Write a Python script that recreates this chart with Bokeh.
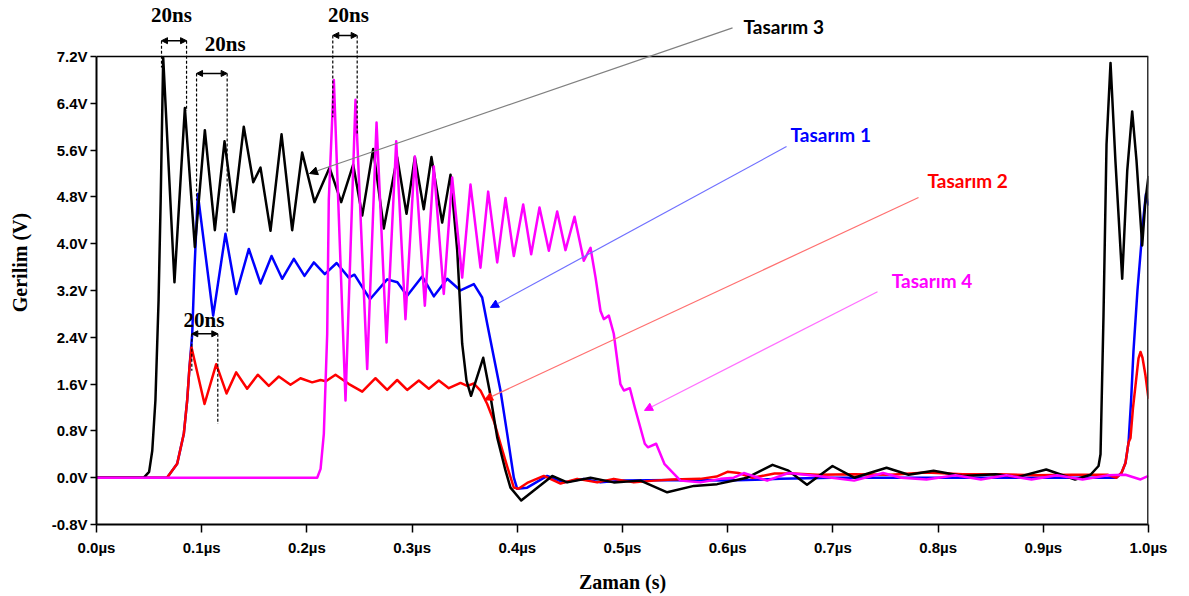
from bokeh.plotting import figure
from bokeh.models import Arrow, NormalHead, Label, FixedTicker, CustomJSTickFormatter
from bokeh.embed import file_html
from bokeh.resources import INLINE

# ---------------- data (time in microseconds, voltage in volts) ----------------
x_ticks = [0.0, 0.1, 0.2, 0.3, 0.4, 0.5, 0.6, 0.7, 0.8, 0.9, 1.0]
x_tick_labels = ["0.0µs", "0.1µs", "0.2µs", "0.3µs", "0.4µs", "0.5µs",
                 "0.6µs", "0.7µs", "0.8µs", "0.9µs", "1.0µs"]
y_ticks = [-0.8, 0.0, 0.8, 1.6, 2.4, 3.2, 4.0, 4.8, 5.6, 6.4, 7.2]
y_tick_labels = ["-0.8V", "0.0V", "0.8V", "1.6V", "2.4V", "3.2V",
                 "4.0V", "4.8V", "5.6V", "6.4V", "7.2V"]

series_names = ["Tasarım 1", "Tasarım 2", "Tasarım 3", "Tasarım 4"]

t3_t = [0.000, 0.045, 0.050, 0.053, 0.056, 0.059, 0.061, 0.0634, 0.0741, 0.0840,
        0.0935, 0.1030, 0.1125, 0.1217, 0.1305, 0.1400, 0.1490, 0.1559, 0.1654, 0.1759,
        0.1860, 0.1955, 0.2072, 0.2215, 0.2326, 0.2440, 0.2526, 0.2630, 0.2731, 0.2858,
        0.2947, 0.3026, 0.3111, 0.3184, 0.3286, 0.3365, 0.3429, 0.3476, 0.3517, 0.3560,
        0.3676, 0.3736, 0.3809, 0.3888, 0.3935, 0.4037, 0.4157, 0.4332, 0.4474, 0.4696,
        0.4917, 0.5171, 0.5425, 0.5678, 0.5900, 0.6185, 0.6426, 0.6578, 0.6754, 0.6996,
        0.7202, 0.7510, 0.7719, 0.7957, 0.8232, 0.8546, 0.8752, 0.9028, 0.9302, 0.9449,
        0.9525, 0.9544, 0.9572, 0.9601, 0.9639, 0.9686, 0.9750, 0.9798, 0.9845, 0.9886,
        0.9940, 0.9971, 1.0000]
t3_v = [0.00, 0.00, 0.10, 0.46, 1.32, 3.03, 4.74, 7.18, 3.34, 6.32,
        3.94, 5.94, 4.23, 5.75, 4.54, 6.00, 5.05, 5.30, 4.22, 5.87,
        4.23, 5.56, 4.71, 5.30, 4.71, 5.35, 4.48, 5.62, 4.26, 5.48,
        4.51, 5.48, 4.59, 5.48, 4.36, 5.18, 3.88, 2.29, 1.66, 1.40,
        2.05, 1.49, 0.69, 0.12, -0.17, -0.39, -0.22, 0.03, -0.08, 0.00,
        -0.08, -0.05, -0.25, -0.14, -0.11, 0.00, 0.22, 0.12, -0.12, 0.20,
        0.00, 0.17, 0.05, 0.12, 0.03, 0.06, 0.01, 0.14, -0.03, 0.05,
        0.20, 0.40, 2.75, 5.70, 7.09, 5.40, 3.40, 5.25, 6.26, 5.42,
        3.97, 4.74, 5.16]

t1_t = [0.000, 0.067, 0.0767, 0.0830, 0.0862, 0.0884, 0.0910, 0.0932, 0.0963, 0.1109,
        0.1226, 0.1328, 0.1448, 0.1559, 0.1664, 0.1765, 0.1876, 0.1977, 0.2066, 0.2170,
        0.2283, 0.2398, 0.2452, 0.2600, 0.2763, 0.2860, 0.2953, 0.3096, 0.3207, 0.3334,
        0.3460, 0.3587, 0.3666, 0.3714, 0.3777, 0.3840, 0.3904, 0.3967, 0.3999, 0.4094,
        0.4284, 0.4442, 0.4632, 0.4791, 0.5000, 0.5500, 0.6000, 0.6500, 0.7000, 0.9600,
        0.9696, 0.9743, 0.9781, 0.9810, 0.9834, 0.9857, 0.9895, 0.9924, 0.9952, 0.9976,
        1.0000]
t1_v = [0.00, 0.00, 0.24, 0.75, 1.32, 1.89, 2.46, 3.59, 4.85, 2.77,
        4.17, 3.14, 3.91, 3.32, 3.79, 3.40, 3.74, 3.45, 3.68, 3.48,
        3.67, 3.42, 3.47, 3.05, 3.39, 3.34, 3.11, 3.44, 3.10, 3.40,
        3.20, 3.31, 3.08, 2.63, 2.06, 1.49, 0.75, 0.00, -0.19, -0.17,
        0.03, -0.08, -0.02, -0.08, -0.05, -0.04, -0.05, -0.02, 0.00, 0.00,
        0.00, 0.08, 0.25, 0.60, 1.30, 2.16, 3.20, 3.83, 4.45, 4.85,
        4.65]

t2_t = [0.000, 0.067, 0.0767, 0.0830, 0.0862, 0.0884, 0.0903, 0.1027, 0.1138, 0.1236,
        0.1328, 0.1432, 0.1533, 0.1638, 0.1733, 0.1844, 0.1939, 0.2050, 0.2130, 0.2180,
        0.2272, 0.2400, 0.2526, 0.2652, 0.2763, 0.2858, 0.2953, 0.3064, 0.3159, 0.3254,
        0.3349, 0.3460, 0.3524, 0.3587, 0.3650, 0.3714, 0.3777, 0.3840, 0.3904, 0.3967,
        0.4011, 0.4094, 0.4252, 0.4411, 0.4569, 0.4759, 0.4917, 0.5108, 0.5298, 0.5475,
        0.5741, 0.5894, 0.5998, 0.6103, 0.6236, 0.6445, 0.6616, 0.6854, 0.7202, 0.7548,
        0.7890, 0.8232, 0.8580, 0.8926, 0.9268, 0.9610, 0.9696, 0.9743, 0.9781, 0.9810,
        0.9829, 0.9853, 0.9876, 0.9905, 0.9924, 0.9943, 0.9971, 1.0000]
t2_v = [0.00, 0.00, 0.24, 0.75, 1.32, 1.89, 2.23, 1.26, 1.94, 1.44,
        1.80, 1.52, 1.76, 1.57, 1.73, 1.59, 1.70, 1.63, 1.67, 1.65,
        1.76, 1.60, 1.47, 1.70, 1.50, 1.67, 1.50, 1.66, 1.52, 1.66,
        1.53, 1.62, 1.57, 1.61, 1.49, 1.26, 0.97, 0.58, 0.19, -0.17,
        -0.19, -0.09, 0.03, -0.10, -0.02, -0.08, -0.02, -0.08, -0.05, -0.03,
        -0.02, 0.02, 0.10, 0.08, 0.00, 0.07, 0.07, 0.05, 0.06, 0.05,
        0.09, 0.06, 0.06, 0.04, 0.05, 0.05, 0.00, 0.08, 0.25, 0.60,
        0.68, 1.20, 1.57, 2.04, 2.15, 2.05, 1.75, 1.35]

t4_t = [0.000, 0.2098, 0.2130, 0.2161, 0.2193, 0.2208, 0.2256, 0.2367, 0.2462, 0.2573,
        0.2662, 0.2757, 0.2849, 0.2937, 0.3026, 0.3121, 0.3206, 0.3301, 0.3381, 0.3476,
        0.3555, 0.3650, 0.3723, 0.3809, 0.3888, 0.3967, 0.4056, 0.4132, 0.4211, 0.4300,
        0.4379, 0.4458, 0.4544, 0.4632, 0.4696, 0.4744, 0.4791, 0.4822, 0.4870, 0.4917,
        0.4980, 0.5013, 0.5070, 0.5117, 0.5212, 0.5241, 0.5320, 0.5400, 0.5551, 0.5741,
        0.5932, 0.6058, 0.6153, 0.6375, 0.6578, 0.6854, 0.7202, 0.7477, 0.7649, 0.7890,
        0.8165, 0.8407, 0.8648, 0.8888, 0.9130, 0.9373, 0.9610, 0.9781, 0.9924, 1.0000]
t4_v = [0.00, 0.00, 0.15, 0.75, 2.46, 4.74, 6.80, 1.32, 6.46, 1.86,
        6.07, 2.31, 5.75, 2.71, 5.49, 2.94, 5.32, 3.14, 5.13, 3.42,
        5.01, 3.59, 4.89, 3.68, 4.78, 3.79, 4.67, 3.82, 4.62, 3.88,
        4.55, 3.89, 4.46, 3.71, 3.93, 3.42, 2.85, 2.71, 2.77, 2.46,
        1.60, 1.49, 1.53, 1.20, 0.58, 0.52, 0.58, 0.23, -0.05, -0.08,
        -0.02, 0.00, 0.08, -0.05, 0.08, 0.03, -0.05, 0.08, 0.00, -0.03,
        0.04, -0.03, 0.04, -0.03, 0.04, -0.03, 0.04, 0.05, -0.03, 0.03]

# ---------------- figure ----------------
# the frame extends to the top edge of the canvas so that the annotations
# placed above the plot box are not clipped
X0, X1 = 0.0, 1.0
Y0, Y1 = -0.8, 7.2
p = figure(width=1189, height=596, x_range=(X0, X1), y_range=(Y0, 8.157),
           output_backend="svg", toolbar_location=None,
           min_border_left=96, min_border_right=41, min_border_top=0, min_border_bottom=72)
p.background_fill_color = "white"
p.border_fill_color = "white"
p.outline_line_color = None
p.xgrid.visible = False
p.ygrid.visible = False

fmt_code = """
let b = 0;
for (let i = 0; i < vals.length; i++) {
  if (Math.abs(vals[i] - tick) < Math.abs(vals[b] - tick)) { b = i; }
}
return labs[b];
"""
p.xaxis.ticker = FixedTicker(ticks=x_ticks)
p.yaxis.ticker = FixedTicker(ticks=y_ticks)
p.xaxis.formatter = CustomJSTickFormatter(args=dict(vals=x_ticks, labs=x_tick_labels), code=fmt_code)
p.yaxis.formatter = CustomJSTickFormatter(args=dict(vals=y_ticks, labs=y_tick_labels), code=fmt_code)
p.xaxis.bounds = (X0, X1)
p.yaxis.bounds = (Y0, Y1)

for ax in (p.xaxis, p.yaxis):
    ax.axis_line_color = "black"
    ax.axis_line_width = 2
    ax.major_tick_line_color = "black"
    ax.major_tick_line_width = 1.5
    ax.major_tick_in = 0
    ax.minor_tick_line_color = None
    ax.major_label_text_font = "Liberation Sans"
    ax.major_label_text_font_style = "bold"
    ax.major_label_text_font_size = "15px"
    ax.major_label_text_color = "black"
    ax.axis_label_text_font = "Liberation Serif"
    ax.axis_label_text_font_style = "bold"
    ax.axis_label_text_font_size = "20px"
    ax.axis_label_text_color = "black"

p.xaxis.major_tick_out = 8
p.yaxis.major_tick_out = 6
p.xaxis.major_label_standoff = 6
p.yaxis.major_label_standoff = 3
p.xaxis.axis_label = "Zaman (s)"
p.yaxis.axis_label = "Gerilim (V)"
p.xaxis.axis_label_standoff = 12
p.yaxis.axis_label_standoff = 18

# top and right sides of the plot box
p.add_layout(Arrow(start=None, end=None, x_start=X0, y_start=Y1, x_end=X1, y_end=Y1,
                   line_color="black", line_width=1.5))
p.add_layout(Arrow(start=None, end=None, x_start=X1, y_start=Y0, x_end=X1, y_end=Y1,
                   line_color="#333333", line_width=3))

lw = 2.5
p.line(t1_t, t1_v, line_color="#0000ff", line_width=lw, line_join="round")
p.line(t2_t, t2_v, line_color="#ff0000", line_width=lw, line_join="round")
p.line(t3_t, t3_v, line_color="#000000", line_width=lw, line_join="round")
p.line(t4_t, t4_v, line_color="#ff00ff", line_width=lw, line_join="round")

# ---------------- 20ns markers ----------------
def dashed(x, y0, y1):
    p.add_layout(Arrow(start=None, end=None, x_start=x, y_start=y0, x_end=x, y_end=y1,
                       line_color="black", line_width=1.2, line_dash="3 2"))

def span_arrow(x0, x1, y):
    p.add_layout(Arrow(start=NormalHead(size=6, fill_color="black", line_color="black"),
                       end=NormalHead(size=6, fill_color="black", line_color="black"),
                       x_start=x0, y_start=y, x_end=x1, y_end=y,
                       line_color="black", line_width=1.5))

def ns_label(x, y):
    p.add_layout(Label(x=x, y=y, text="20ns", text_font="Liberation Serif",
                       text_font_style="bold", text_font_size="21px", text_color="black",
                       text_align="center", text_baseline="middle"))

# marker 1
dashed(0.0618, 7.47, 7.01)
dashed(0.0856, 7.47, 6.27)
span_arrow(0.0618, 0.0856, 7.47)
ns_label(0.0713, 7.91)
# marker 2
dashed(0.0951, 6.91, 4.74)
dashed(0.1242, 6.91, 4.19)
span_arrow(0.0951, 0.1242, 6.91)
ns_label(0.1223, 7.42)
# marker 3
dashed(0.2246, 7.56, 6.16)
dashed(0.2478, 7.56, 5.88)
span_arrow(0.2246, 0.2478, 7.56)
ns_label(0.2395, 7.91)
# marker 4
dashed(0.0906, 2.46, 1.83)
dashed(0.1153, 2.46, 0.92)
span_arrow(0.0906, 0.1153, 2.46)
ns_label(0.1022, 2.70)

# ---------------- series labels with leader arrows ----------------
def leader(x0, y0, x1, y1, line_color, head_color):
    p.add_layout(Arrow(start=None,
                       end=NormalHead(size=8, fill_color=head_color, line_color=head_color),
                       x_start=x0, y_start=y0, x_end=x1, y_end=y1,
                       line_color=line_color, line_width=1.2))

def name_label(x, y, text, color):
    p.add_layout(Label(x=x, y=y, text=text, text_font="Lato", text_font_style="bold",
                       text_font_size="19px", text_color=color,
                       text_align="left", text_baseline="middle"))

leader(0.6046, 7.69, 0.2025, 5.20, "#808080", "#000000")
name_label(0.6150, 7.71, series_names[2], "#000000")

leader(0.6559, 5.66, 0.3745, 2.91, "#7070ff", "#0000ff")
name_label(0.6597, 5.87, series_names[0], "#0000ff")

leader(0.7814, 4.79, 0.3688, 1.33, "#ff7070", "#ff0000")
name_label(0.7899, 5.08, series_names[1], "#ff0000")

leader(0.7424, 3.18, 0.5209, 1.15, "#ff70ff", "#ff00ff")
name_label(0.7560, 3.37, series_names[3], "#ff00ff")

open("out.html", "w").write(file_html(p, INLINE))
